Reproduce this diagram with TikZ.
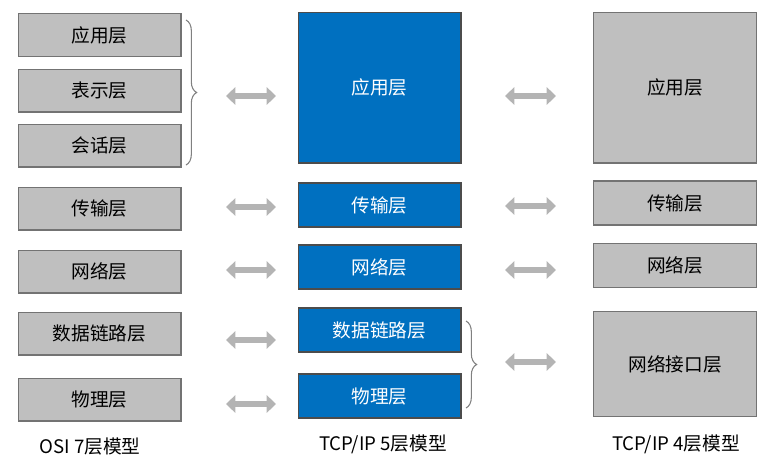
\documentclass[tikz,border=0pt]{standalone}
\usepackage{fontspec}
\setmainfont{Noto Sans CJK SC}
\usetikzlibrary{arrows.meta,decorations.pathreplacing}
\definecolor{boxgray}{HTML}{BFBFBF}
\definecolor{boxblue}{HTML}{0070C0}
\definecolor{arrgray}{HTML}{B4B4B4}
\tikzset{
  layer/.style = {draw=#1, line width=1pt, minimum width=122pt, inner sep=0pt, font=\fontsize{14}{16}\selectfont},
  osi/.style = {layer=black!55, fill=boxgray},
  tcp/.style = {layer=black!70, fill=boxblue, text=white},
  dbl/.style = {arrgray, line width=4.5pt, {Triangle[length=7pt,width=13pt]}-{Triangle[length=7pt,width=13pt]}},
  brace/.style = {draw=black!50, line width=0.8pt, decorate, decoration={brace, amplitude=8pt}},
  caption/.style = {font=\fontsize{14}{16}\selectfont, anchor=center}
}
\begin{document}
\begin{tikzpicture}[x=0.75pt,y=-0.75pt]
\useasboundingbox (0,0) rectangle (782,468);
% OSI 7 layers
\node[osi, minimum height=32pt] (o1) at (99.5,35) {应用层};
\node[osi, minimum height=32pt] (o2) at (99.5,90.5) {表示层};
\node[osi, minimum height=32pt] (o3) at (99.5,145.5) {会话层};
\node[osi, minimum height=32pt] (o4) at (99.5,208.5) {传输层};
\node[osi, minimum height=32pt] (o5) at (99.5,271.5) {网络层};
\node[osi, minimum height=32pt] (o6) at (99.5,333.5) {数据链路层};
\node[osi, minimum height=32pt] (o7) at (99.5,399.5) {物理层};
% TCP/IP 5 layers
\node[tcp, minimum height=113pt] (t1) at (379.5,87.5) {应用层};
\node[tcp, minimum height=33pt] (t2) at (379.5,205) {传输层};
\node[tcp, minimum height=33pt] (t3) at (379.5,267) {网络层};
\node[tcp, minimum height=33pt] (t4) at (379.5,330) {数据链路层};
\node[tcp, minimum height=33pt] (t5) at (379.5,396) {物理层};
% TCP/IP 4 layers
\node[osi, minimum height=113pt] (f1) at (675,87.5) {应用层};
\node[osi, minimum height=33pt] (f2) at (675,203) {传输层};
\node[osi, minimum height=33pt] (f3) at (675,265.5) {网络层};
\node[osi, minimum height=79pt] (f4) at (675,364) {网络接口层};
% braces
\draw[brace] (186,20) -- (186,165);
\draw[brace] (466,321) -- (466,408);
% arrows
\foreach \y [count=\i] in {96,207,270,340,404}
  \draw[dbl] (226,\y) coordinate (la\i) -- (276,\y) coordinate (lb\i);
\foreach \y [count=\i] in {96,206,270,362}
  \draw[dbl] (505,\y) coordinate (ra\i) -- (556,\y) coordinate (rb\i);
% captions
\node[caption] (c1) at (90,446) {OSI 7层模型};
\node[caption] (c2) at (383,444) {TCP/IP 5层模型};
\node[caption] (c3) at (676,444) {TCP/IP 4层模型};
\end{tikzpicture}
\end{document}
